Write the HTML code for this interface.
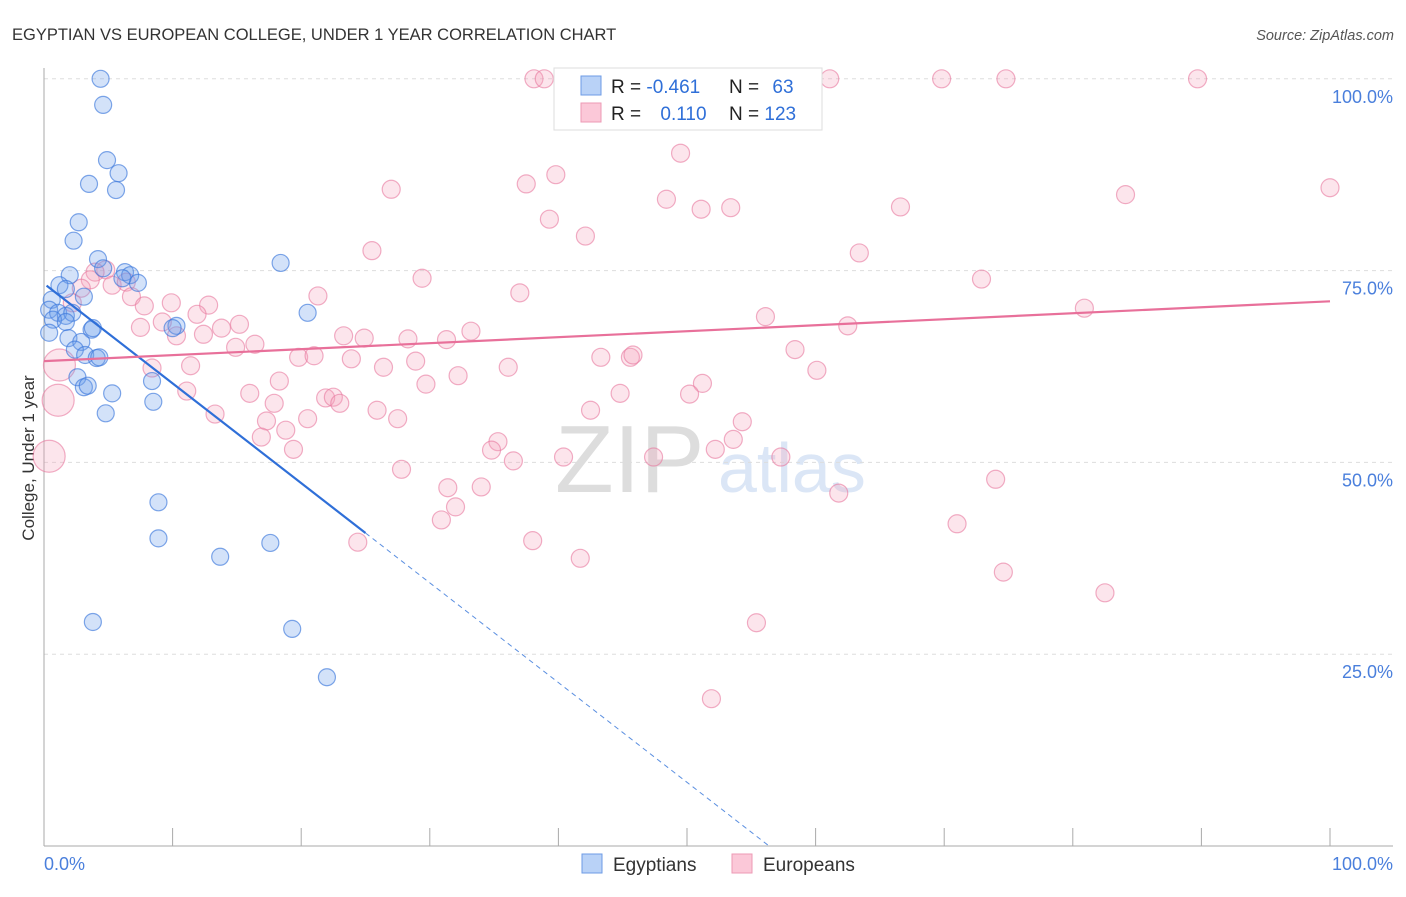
<!DOCTYPE html>
<html><head><meta charset="utf-8"><style>
body{margin:0;background:#fff;font-family:"Liberation Sans",sans-serif}
svg text{font-family:"Liberation Sans",sans-serif}
</style></head><body>
<svg id="chart" width="1406" height="892" viewBox="0 0 1406 892">
<text x="12" y="40" font-size="16.5" fill="#333">EGYPTIAN VS EUROPEAN COLLEGE, UNDER 1 YEAR CORRELATION CHART</text>
<text x="1394" y="40" font-size="14.5" fill="#555" font-style="italic" text-anchor="end">Source: ZipAtlas.com</text>
<text x="0" y="0" transform="translate(34,458) rotate(-90)" font-size="17" fill="#333" text-anchor="middle">College, Under 1 year</text>
<text x="555" y="492" font-size="96" fill="#ddd" font-family="Liberation Serif">ZIP</text>
<text x="718" y="492" font-size="70" fill="#dbe6f6">atlas</text>
<g id="grid"></g><g id="axes"></g><g id="pts"></g><g id="trend"></g>
<g>
<rect x="554" y="68" width="268" height="62" fill="#fff" stroke="#ddd"/>
<rect x="581" y="76" width="20" height="19" fill="#b9d2f7" stroke="#6d9be6"/>
<rect x="581" y="103" width="20" height="19" fill="#fbc8d8" stroke="#ec9ab5"/>
<text x="611" y="93" font-size="19" fill="#222">R = <tspan fill="#2f6fd8">-0.461</tspan></text>
<text x="729" y="93" font-size="19" fill="#222">N = <tspan fill="#2f6fd8" dx="8">63</tspan></text>
<text x="611" y="120" font-size="19" fill="#222">R = <tspan fill="#2f6fd8" dx="14">0.110</tspan></text>
<text x="729" y="120" font-size="19" fill="#222">N = <tspan fill="#2f6fd8">123</tspan></text>
</g>
<g>
<rect x="582" y="854" width="20" height="19" fill="#b9d2f7" stroke="#6d9be6"/>
<text x="613" y="871" font-size="19" fill="#333">Egyptians</text>
<rect x="732" y="854" width="20" height="19" fill="#fbc8d8" stroke="#ec9ab5"/>
<text x="763" y="871" font-size="19" fill="#333">Europeans</text>
</g>
</svg>
<script>
const yTicks=[25,50,75,100];
const yTickLabels=["25.0%","50.0%","75.0%","100.0%"];
const xTicks=[0,10,20,30,40,50,60,70,80,90,100];
const blueX=[4.4,4.6,4.9,5.8,3.5,5.6,2.7,2.3,18.4,4.2,2.0,4.6,6.3,6.7,7.3,6.1,1.2,1.7,0.6,3.1,0.4,1.1,1.7,2.2,20.5,0.7,1.7,0.4,3.7,3.8,10.3,10.0,1.9,2.9,2.4,3.2,4.1,4.3,8.4,2.6,3.1,3.4,5.3,8.5,4.8,8.9,8.9,13.7,17.6,3.8,19.3,22.0];
const blueY=[100,96.6,89.4,87.7,86.3,85.5,81.3,78.9,76.0,76.5,74.4,75.3,74.8,74.4,73.4,74.0,73.1,72.6,71.2,71.6,69.9,69.5,69.1,69.5,69.5,68.6,68.3,66.9,67.3,67.5,67.8,67.5,66.2,65.7,64.7,64.0,63.6,63.7,60.6,61.1,59.8,60.0,59.0,57.9,56.4,44.8,40.1,37.7,39.5,29.2,28.3,22.0];
const pinkX=[1.1,0.4,1.2,38.1,38.9,41.6,43.8,52.9,61.1,69.8,74.8,89.7,49.5,39.8,37.5,27.0,100,48.4,84.1,51.1,53.4,66.6,39.3,42.1,25.5,63.4,29.4,72.9,4.8,3.97,5.3,6.4,3.6,2.9,6.8,21.3,37.0,2.2,7.8,9.9,12.8,11.9,80.9,56.1,9.2,13.8,15.2,7.5,10.3,12.4,33.2,62.5,23.3,24.9,28.3,31.3,14.9,16.4,19.8,21.0,23.9,28.9,43.3,45.6,45.8,58.4,26.4,36.1,60.1,11.4,8.4,32.2,18.3,29.7,51.2,11.1,16.0,44.8,50.2,21.9,22.5,23.0,17.9,25.9,42.5,13.3,20.5,27.5,17.3,54.3,18.8,16.9,53.6,35.3,19.4,34.8,52.2,40.4,57.3,36.5,47.4,27.8,74.0,31.4,34.0,61.8,32.0,30.9,71.0,24.4,38.0,41.7,74.6,82.5,55.4,51.9];
const pinkY=[58.1,50.8,62.7,100,100,100,100,100,100,100,100,100,90.3,87.5,86.3,85.6,85.8,84.3,84.9,83.0,83.2,83.3,81.7,79.5,77.6,77.3,74.0,73.9,75.1,74.8,73.1,73.5,73.8,72.7,71.6,71.7,72.1,70.8,70.4,70.8,70.5,69.3,70.1,69.0,68.3,67.5,68.0,67.6,66.5,66.7,67.1,67.8,66.5,66.2,66.1,66.0,65.0,65.4,63.7,63.9,63.5,63.2,63.7,63.7,64.0,64.7,62.4,62.4,62.0,62.6,62.3,61.3,60.6,60.2,60.3,59.3,59.0,59.0,58.9,58.4,58.5,57.7,57.7,56.8,56.8,56.3,55.7,55.7,55.4,55.3,54.2,53.3,53.0,52.7,51.7,51.6,51.7,50.7,50.7,50.2,50.7,49.1,47.8,46.7,46.8,46.0,44.2,42.5,42.0,39.6,39.8,37.5,35.7,33.0,29.1,19.2];
const pinkBig=[16,16,16];
const blueFit=[73.3,-1.30], pinkFit=[63.2,0.078];
const blueSolidEnd=25.0;
const X=v=>44+v*12.86, Y=v=>846-v*7.672;
const NS="http://www.w3.org/2000/svg";
function mk(t,a,p){const e=document.createElementNS(NS,t);for(const k in a)e.setAttribute(k,a[k]);p.appendChild(e);return e;}
const grid=document.getElementById('grid'),axes=document.getElementById('axes'),pts=document.getElementById('pts'),tr=document.getElementById('trend');
yTicks.forEach((t,i)=>{
 const l=mk('line',{x1:44,x2:1393,y1:Y(t),y2:Y(t),stroke:'#ddd','stroke-dasharray':'4,4'},grid);
 
 
 const tx=mk('text',{x:1393,y:Y(t)+24,'font-size':18,fill:'#4a7fdc','text-anchor':'end'},grid);
 tx.textContent=yTickLabels[i];
 
 
});
const ax=mk('line',{x1:44,x2:44,y1:68,y2:846,stroke:'#aaa'},axes);


const bx=mk('line',{x1:44,x2:1393,y1:846,y2:846,stroke:'#aaa'},axes);


xTicks.forEach(t=>{const l=mk('line',{x1:X(t),x2:X(t),y1:828,y2:846,stroke:'#aaa'},axes);
 
 });
const xl0=mk('text',{x:44,y:870,'font-size':18,fill:'#4a7fdc'},axes);xl0.textContent='0.0%';


const xl1=mk('text',{x:1393,y:870,'font-size':18,fill:'#4a7fdc','text-anchor':'end'},axes);xl1.textContent='100.0%';


pinkX.forEach((v,i)=>{const c=mk('circle',{cx:X(v),cy:Y(pinkY[i]),r:pinkBig[i]||9,fill:'rgba(244,160,188,0.28)',stroke:'rgba(232,120,158,0.6)','stroke-width':1.2},pts);
 
 });
blueX.forEach((v,i)=>{const c=mk('circle',{cx:X(v),cy:Y(blueY[i]),r:8.5,fill:'rgba(110,160,235,0.3)',stroke:'rgba(60,120,220,0.65)','stroke-width':1.2},pts);
 
 });
const bz=-blueFit[0]/blueFit[1];
const b1=mk('line',{x1:X(0.2),y1:Y(blueFit[0]+blueFit[1]*0.2),x2:X(blueSolidEnd),y2:Y(blueFit[0]+blueFit[1]*blueSolidEnd),stroke:'#2f6fd8','stroke-width':2.2},tr);


const b2=mk('line',{x1:X(blueSolidEnd),y1:Y(blueFit[0]+blueFit[1]*blueSolidEnd),x2:X(bz),y2:Y(0),stroke:'#5b8fe0','stroke-width':1,'stroke-dasharray':'5,4'},tr);


const p1=mk('line',{x1:X(0),y1:Y(pinkFit[0]),x2:X(100),y2:Y(pinkFit[0]+pinkFit[1]*100),stroke:'#e8709a','stroke-width':2.2},tr);


</script>
</body></html>
